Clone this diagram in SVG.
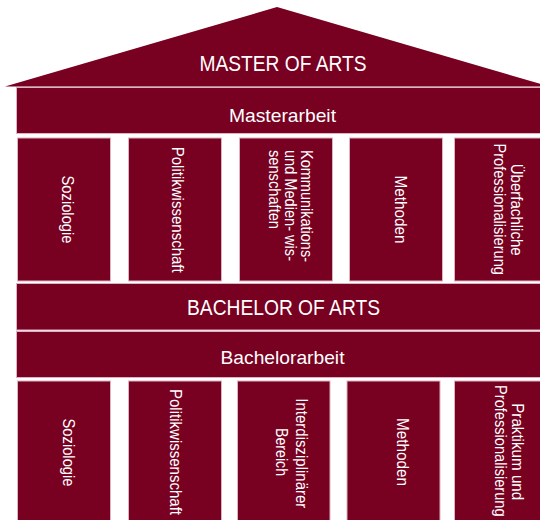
<svg xmlns="http://www.w3.org/2000/svg" width="540" height="520" viewBox="0 0 540 520">
<style>
.b{fill:#780021;stroke:#dcb3c0;stroke-width:1}
.t{fill:#ffffff;font-family:"Liberation Sans",Arial,sans-serif;}
.h{font-size:22px;text-anchor:middle}
.s{font-size:19px;text-anchor:middle}
.p{font-size:16px;text-anchor:middle}
.ps{font-size:16px;text-anchor:start}
</style>
<rect width="540" height="520" fill="#ffffff"/>
<g id="roof">
<polygon points="5,86.5 277,7 549,86.5" fill="#780021"/>
<text class="t h" x="283" y="70.5" textLength="167" lengthAdjust="spacingAndGlyphs">MASTER OF ARTS</text>
</g>
<g id="masterarbeit">
<rect class="b" x="16.5" y="87.5" width="540" height="46"/>
<text class="t s" x="282.5" y="121.5" textLength="107" lengthAdjust="spacingAndGlyphs">Masterarbeit</text>
</g>
<g id="ma-soziologie">
<rect class="b" x="17.5" y="138" width="93" height="143"/>
<text class="t p" transform="translate(62,209.5) rotate(90)" textLength="68" lengthAdjust="spacingAndGlyphs">Soziologie</text>
</g>
<g id="ma-politik">
<rect class="b" x="128.5" y="138" width="93" height="143"/>
<text class="t p" transform="translate(172,209.7) rotate(90)" textLength="126" lengthAdjust="spacingAndGlyphs">Politikwissenschaft</text>
</g>
<g id="ma-kommunikation">
<rect class="b" x="239.5" y="138" width="93" height="143"/>
<text class="t ps" transform="translate(301,150) rotate(90)" textLength="112" lengthAdjust="spacingAndGlyphs">Kommunikations-</text>
<text class="t ps" transform="translate(285,150) rotate(90)" textLength="111" lengthAdjust="spacingAndGlyphs">und Medien- wis-</text>
<text class="t ps" transform="translate(269,150) rotate(90)" textLength="79" lengthAdjust="spacingAndGlyphs">senschaften</text>
</g>
<g id="ma-methoden">
<rect class="b" x="349.5" y="138" width="93" height="143"/>
<text class="t p" transform="translate(395,209.5) rotate(90)" textLength="68" lengthAdjust="spacingAndGlyphs">Methoden</text>
</g>
<g id="ma-ueberfachlich">
<rect class="b" x="454.5" y="138" width="93" height="143"/>
<text class="t p" transform="translate(510.5,209.7) rotate(90)" textLength="92" lengthAdjust="spacingAndGlyphs">Überfachliche</text>
<text class="t p" transform="translate(494,209.2) rotate(90)" textLength="131.5" lengthAdjust="spacingAndGlyphs">Professionalisierung</text>
</g>
<g id="bachelor">
<rect class="b" x="16.5" y="283.5" width="540" height="46.5"/>
<text class="t h" x="283.5" y="315" textLength="193" lengthAdjust="spacingAndGlyphs">BACHELOR OF ARTS</text>
</g>
<g id="bachelorarbeit">
<rect class="b" x="16.5" y="331.5" width="540" height="46"/>
<text class="t s" x="282.5" y="363.5" textLength="124" lengthAdjust="spacingAndGlyphs">Bachelorarbeit</text>
</g>
<g id="ba-soziologie">
<rect class="b" x="17.5" y="381" width="93" height="143"/>
<text class="t p" transform="translate(63,452.5) rotate(90)" textLength="68" lengthAdjust="spacingAndGlyphs">Soziologie</text>
</g>
<g id="ba-politik">
<rect class="b" x="128.5" y="381" width="93" height="143"/>
<text class="t p" transform="translate(169.5,452) rotate(90)" textLength="126" lengthAdjust="spacingAndGlyphs">Politikwissenschaft</text>
</g>
<g id="ba-interdisziplinaer">
<rect class="b" x="237.5" y="381" width="92.5" height="143"/>
<text class="t p" transform="translate(296,453.3) rotate(90)" textLength="110" lengthAdjust="spacingAndGlyphs">Interdisziplinärer</text>
<text class="t p" transform="translate(275.5,452) rotate(90)" textLength="48" lengthAdjust="spacingAndGlyphs">Bereich</text>
</g>
<g id="ba-methoden">
<rect class="b" x="347" y="381" width="93" height="143"/>
<text class="t p" transform="translate(397,452) rotate(90)" textLength="68" lengthAdjust="spacingAndGlyphs">Methoden</text>
</g>
<g id="ba-praktikum">
<rect class="b" x="454.5" y="381" width="93" height="143"/>
<text class="t p" transform="translate(512,451.7) rotate(90)" textLength="97" lengthAdjust="spacingAndGlyphs">Praktikum und</text>
<text class="t p" transform="translate(495,450.8) rotate(90)" textLength="131.5" lengthAdjust="spacingAndGlyphs">Professionalisierung</text>
</g>
</svg>
